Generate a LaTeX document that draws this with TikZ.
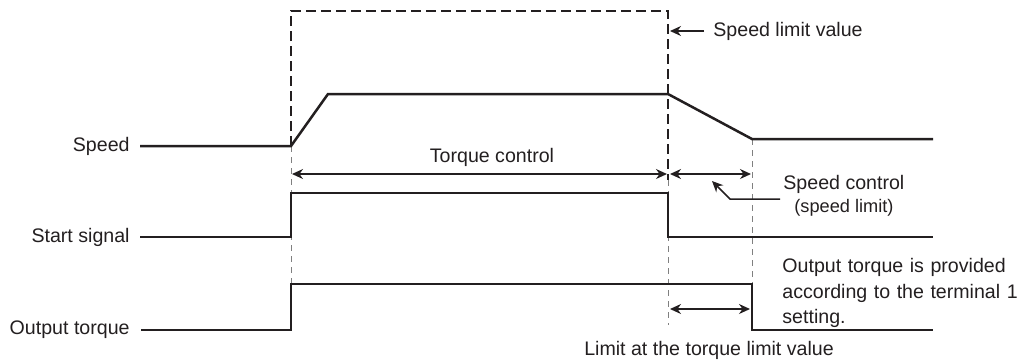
\documentclass[tikz,border=0pt]{standalone}
\usepackage{fontspec}
\setmainfont{Liberation Sans}
\usetikzlibrary{arrows.meta}
\definecolor{ink}{HTML}{231F20}
\begin{document}
\begin{tikzpicture}[x=0.5pt,y=-0.5pt,
  sig/.style={draw=ink,line width=1.25pt,line join=miter},
  heavydash/.style={draw=ink,line width=1.05pt,dash pattern=on 5pt off 2.5pt},
  thindash/.style={draw=gray,line width=0.5pt,dash pattern=on 3pt off 2.5pt},
  dim/.style={draw=ink,line width=0.75pt,{Stealth[length=5.5pt,width=5pt]}-{Stealth[length=5.5pt,width=5pt]}},
  lead/.style={draw=ink,line width=0.75pt,-{Stealth[length=5.5pt,width=5pt]}},
  lbl/.style={text=ink,font=\fontsize{9.8}{11.6}\selectfont,inner sep=0pt},
  small/.style={text=ink,font=\fontsize{9.1}{11}\selectfont,inner sep=0pt}]
\useasboundingbox (0,0) rectangle (1018,361);
% labels
\node[lbl,anchor=east] (lspeed) at (130,146) {Speed};
\node[lbl,anchor=east] (lstart) at (130,237) {Start signal};
\node[lbl,anchor=east] (ltorque) at (130,330) {Output torque};
% coordinates
\coordinate (s0) at (140,146);
\coordinate (s1) at (291,146);
\coordinate (s2) at (328,94);
\coordinate (s3) at (668,94);
\coordinate (s4) at (752,139);
\coordinate (s5) at (933,139);
\coordinate (a0) at (140,237);
\coordinate (a1) at (291,237);
\coordinate (a2) at (291,193);
\coordinate (a3) at (668,193);
\coordinate (a4) at (668,237);
\coordinate (a5) at (933,237);
\coordinate (t0) at (141,330);
\coordinate (t1) at (291,330);
\coordinate (t2) at (291,284);
\coordinate (t3) at (752,284);
\coordinate (t4) at (752,330);
\coordinate (t5) at (933,330);
\coordinate (bl) at (291,11);
\coordinate (br) at (668,11);
\coordinate (bre) at (668,180);
\coordinate (rend) at (668,325);
\coordinate (lend) at (291,284);
\coordinate (send) at (752,284);
% thin dashed guides
\draw[thindash] (s1) -- (lend);
\draw[thindash] (bre) -- (rend);
\draw[thindash] (s4) -- (send);
% heavy dashed box
\draw[heavydash] (s1) -- (bl) -- (br) -- (bre);
% signals
\draw[sig] (s0) -- (s1) -- (s2) -- (s3) -- (s4) -- (s5);
\draw[sig] (a0) -- (a1) -- (a2) -- (a3) -- (a4) -- (a5);
\draw[sig] (t0) -- (t1) -- (t2) -- (t3) -- (t4) -- (t5);
% dimension arrows
\coordinate (d1a) at (292,174);
\coordinate (d1b) at (667,174);
\coordinate (d2a) at (670,174);
\coordinate (d2b) at (751,174);
\coordinate (d3a) at (670,309);
\coordinate (d3b) at (750,309);
\draw[dim] (d1a) -- (d1b);
\draw[dim] (d2a) -- (d2b);
\draw[dim] (d3a) -- (d3b);
\node[lbl] (tc) at (492,157) {Torque control};
% speed limit value
\node[lbl,anchor=west] (slv) at (713,31) {Speed limit value};
\coordinate (slvtip) at (670,31);
\coordinate (slvtail) at (704,31);
\draw[lead] (slvtail) -- (slvtip);
% speed control
\node[lbl,anchor=west] (sc) at (783,184) {Speed control};
\node[small,anchor=west] (scl) at (794,208) {(speed limit)};
\coordinate (k1) at (780,199);
\coordinate (k2) at (730,199);
\coordinate (k3) at (712,181);
\draw[lead] (k1) -- (k2) -- (k3);
% output torque note
\node[lbl,anchor=north west,align=left,text width=240] (note) at (782,258)
  {Output torque is provided\\[1.1pt]according to the terminal 1\\[1.1pt]setting.};
\node[lbl] (lim) at (709,350) {Limit at the torque limit value};
\end{tikzpicture}
\end{document}
